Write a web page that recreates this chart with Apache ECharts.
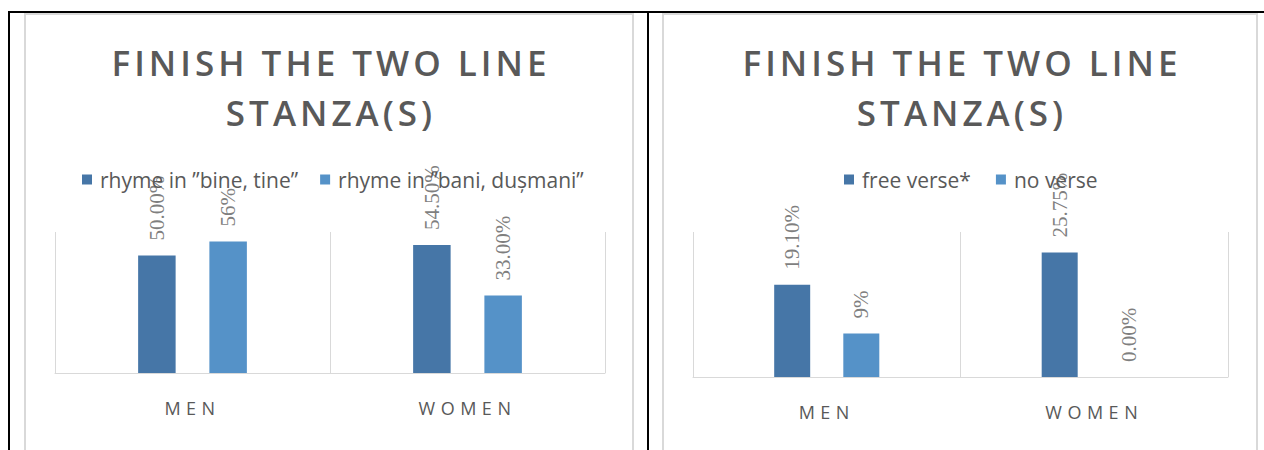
<!DOCTYPE html>
<html><head><meta charset="utf-8">
<script src="https://cdn.jsdelivr.net/npm/echarts@6/dist/echarts.min.js"></script>
<style>
html,body{margin:0;padding:0;background:#fff;}
#c{width:1264px;height:450px;}
#c text[style*="35px"]{letter-spacing:4px;}
#c text[style*="18px"]{letter-spacing:5.5px;}
</style></head><body><div id="c"></div>
<script>
const categories = ['MEN', 'WOMEN'];
const chartTitle = 'FINISH THE TWO LINE\nSTANZA(S)';

const rhymeBineName = 'rhyme in ”bine, tine”';
const rhymeBaniName = 'rhyme in ”bani, dușmani”';
const rhymeBine = [50.00, 54.50];
const rhymeBani = [56, 33.00];
const rhymeBineDecimals = [2, 2];
const rhymeBaniDecimals = [0, 2];

const freeVerseName = 'free verse*';
const noVerseName = 'no verse';
const freeVerse = [19.10, 25.75];
const noVerse = [9, 0.00];
const freeVerseDecimals = [2, 2];
const noVerseDecimals = [0, 2];

const leftMax = 60;
const rightMax = 30;

const DARK = '#4676a7', LIGHT = '#5592c8', TXT = '#595959', GRID = '#d9d9d9';

function mkSeries(name, data, decimals, color, idx, gap) {
  return {
    type: 'bar', name: name, data: data,
    xAxisIndex: idx, yAxisIndex: idx,
    itemStyle: { color: color },
    barWidth: idx === 0 ? 37.5 : 36,
    barGap: gap,
    label: {
      show: true, position: 'top', rotate: 90, distance: 15,
      align: 'left', verticalAlign: 'middle',
      fontFamily: '"Liberation Serif", serif', fontSize: 21, color: '#7f7f7f',
      formatter: p => p.value.toFixed(decimals[p.dataIndex]) + '%'
    }
  };
}

function mkX(idx) {
  return {
    type: 'category', data: categories, gridIndex: idx,
    axisLine: { lineStyle: { color: GRID, width: 1 } },
    axisTick: { show: false },
    splitLine: { show: true, lineStyle: { color: GRID, width: 1 } },
    axisLabel: { margin: 26, fontFamily: '"Open Sans"', fontSize: 18, color: TXT }
  };
}

const chart = echarts.init(document.getElementById('c'), null, { renderer: 'svg' });
chart.setOption({
  animation: false,
  backgroundColor: '#fff',
  title: [
    { text: chartTitle, left: 326, top: 32, textAlign: 'center',
      textStyle: { fontFamily: '"Open Sans"', fontWeight: 600, fontSize: 35, lineHeight: 50, color: TXT } },
    { text: chartTitle, left: 957, top: 32, textAlign: 'center',
      textStyle: { fontFamily: '"Open Sans"', fontWeight: 600, fontSize: 35, lineHeight: 50, color: TXT } }
  ],
  legend: [
    { data: [rhymeBineName, rhymeBaniName], left: 77, top: 164, itemWidth: 10, itemHeight: 10, itemGap: 22,
      icon: 'rect', textStyle: { fontFamily: '"Open Sans"', fontSize: 21, color: TXT, padding: [0, 0, 0, 3] } },
    { data: [freeVerseName, noVerseName], left: 839, top: 164, itemWidth: 10, itemHeight: 10, itemGap: 25,
      icon: 'rect', textStyle: { fontFamily: '"Open Sans"', fontSize: 21, color: TXT, padding: [0, 0, 0, 3] } }
  ],
  grid: [
    { left: 55, top: 232, width: 550, height: 141 },
    { left: 693, top: 232, width: 535, height: 145 }
  ],
  xAxis: [mkX(0), mkX(1)],
  yAxis: [
    { type: 'value', gridIndex: 0, min: 0, max: leftMax, show: false },
    { type: 'value', gridIndex: 1, min: 0, max: rightMax, show: false }
  ],
  series: [
    mkSeries(rhymeBineName, rhymeBine, rhymeBineDecimals, DARK, 0, '90%'),
    mkSeries(rhymeBaniName, rhymeBani, rhymeBaniDecimals, LIGHT, 0, '90%'),
    mkSeries(freeVerseName, freeVerse, freeVerseDecimals, DARK, 1, '92%'),
    mkSeries(noVerseName, noVerse, noVerseDecimals, LIGHT, 1, '92%')
  ],
  graphic: [
    { type: 'rect', silent: true, z: 100, shape: { x: 25, y: 14, width: 608, height: 460 }, style: { fill: 'none', stroke: GRID, lineWidth: 2 } },
    { type: 'rect', silent: true, z: 100, shape: { x: 663, y: 14, width: 594, height: 460 }, style: { fill: 'none', stroke: GRID, lineWidth: 2 } },
    { type: 'rect', silent: true, z: 101, shape: { x: 8, y: 11, width: 1256, height: 2 }, style: { fill: '#000' } },
    { type: 'rect', silent: true, z: 101, shape: { x: 8, y: 11, width: 2, height: 439 }, style: { fill: '#000' } },
    { type: 'rect', silent: true, z: 101, shape: { x: 647, y: 11, width: 2, height: 439 }, style: { fill: '#000' } }
  ]
});
</script></body></html>
